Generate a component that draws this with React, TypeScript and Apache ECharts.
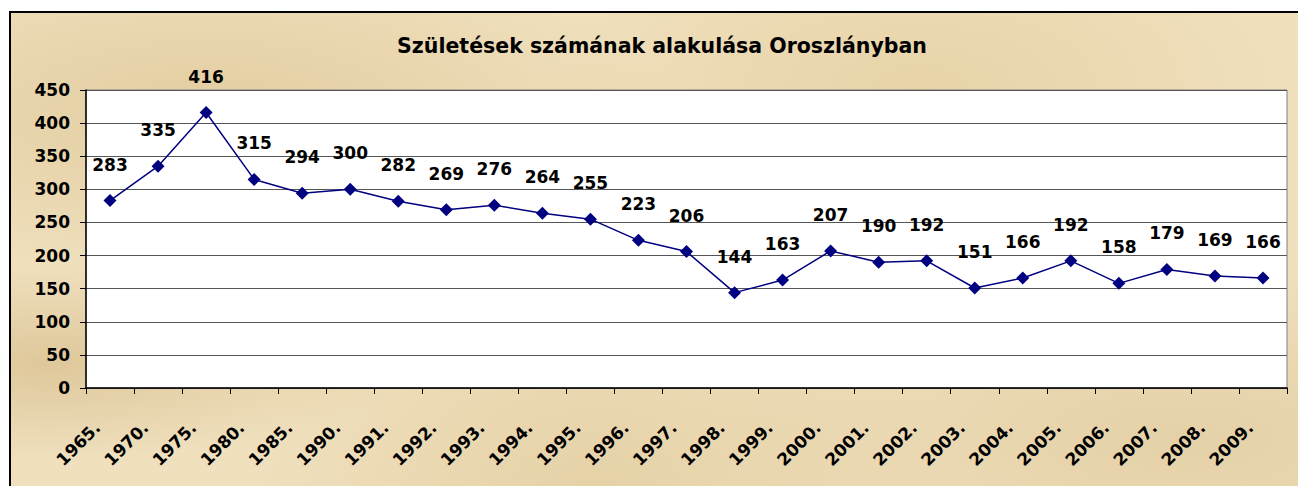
import React, { useEffect, useRef } from "react";
import * as echarts from "echarts";

const categories = [
  "1965.", "1970.", "1975.", "1980.", "1985.", "1990.", "1991.", "1992.", "1993.", "1994.",
  "1995.", "1996.", "1997.", "1998.", "1999.", "2000.", "2001.", "2002.", "2003.", "2004.",
  "2005.", "2006.", "2007.", "2008.", "2009.",
];
const births = [
  283, 335, 416, 315, 294, 300, 282, 269, 276, 264,
  255, 223, 206, 144, 163, 207, 190, 192, 151, 166,
  192, 158, 179, 169, 166,
];
const titleText = "Születések számának alakulása Oroszlányban";

const FONT = "'DejaVu Sans', Verdana, sans-serif";

export default function App() {
  const ref = useRef<HTMLDivElement>(null);
  useEffect(() => {
    if (!ref.current) return;
    const chart = echarts.init(ref.current, undefined, { renderer: "svg" });
    chart.setOption({
      animation: false,
      backgroundColor: "transparent",
      title: {
        text: titleText,
        left: 657,
        top: 30,
        textAlign: "center",
        textStyle: { fontFamily: FONT, fontSize: 20.5, fontWeight: "bold", color: "#000" },
      },
      grid: {
        left: 86,
        top: 90,
        width: 1201,
        height: 298,
        show: true,
        backgroundColor: "#ffffff",
        borderColor: "#808080",
        borderWidth: 1,
      },
      xAxis: {
        type: "category",
        data: categories,
        boundaryGap: true,
        axisLine: { lineStyle: { color: "#000", width: 1.5 } },
        axisTick: { show: true, length: 6, alignWithLabel: false, lineStyle: { color: "#000" } },
        axisLabel: {
          interval: 0,
          rotate: 45,
          margin: 24,
          padding: [0, 18, 0, 0],
          fontFamily: FONT,
          fontSize: 17,
          fontWeight: "bold",
          color: "#000",
        },
      },
      yAxis: {
        type: "value",
        min: 0,
        max: 450,
        interval: 50,
        axisLine: { show: true, lineStyle: { color: "#000", width: 1.5 } },
        axisTick: { show: true, length: 6, lineStyle: { color: "#000" } },
        axisLabel: {
          margin: 16,
          fontFamily: FONT,
          fontSize: 17,
          fontWeight: "bold",
          color: "#000",
        },
        splitLine: { show: true, lineStyle: { color: "#555", width: 1 } },
      },
      series: [
        {
          type: "line",
          data: births,
          symbol: "diamond",
          symbolSize: 13,
          itemStyle: { color: "#000080" },
          lineStyle: { color: "#000080", width: 1.5 },
          label: {
            show: true,
            position: "top",
            distance: 21,
            fontFamily: FONT,
            fontSize: 17,
            fontWeight: "bold",
            color: "#000",
          },
        },
      ],
    });
    return () => chart.dispose();
  }, []);

  return (
    <div style={{ position: "fixed", left: 0, top: 0, width: 1298, height: 486, background: "#fff", overflow: "hidden" }}>
      <div
        style={{
          position: "absolute",
          left: 9,
          top: 11,
          width: 1300,
          height: 500,
          border: "2px solid #000",
          background:
            "radial-gradient(ellipse at 15% 20%, rgba(214,186,130,0.5) 0%, rgba(214,186,130,0) 30%)," +
            "radial-gradient(ellipse at 70% 15%, rgba(222,196,140,0.45) 0%, rgba(222,196,140,0) 30%)," +
            "radial-gradient(ellipse at 45% 95%, rgba(218,192,138,0.45) 0%, rgba(218,192,138,0) 35%)," +
            "radial-gradient(ellipse at 90% 85%, rgba(212,186,132,0.4) 0%, rgba(212,186,132,0) 30%)," +
            "radial-gradient(ellipse at 3% 70%, rgba(205,176,120,0.5) 0%, rgba(205,176,120,0) 20%)," +
            "#F0E0BE",
        }}
      />
      <div ref={ref} style={{ position: "absolute", left: 0, top: 0, width: 1298, height: 486 }} />
    </div>
  );
}
